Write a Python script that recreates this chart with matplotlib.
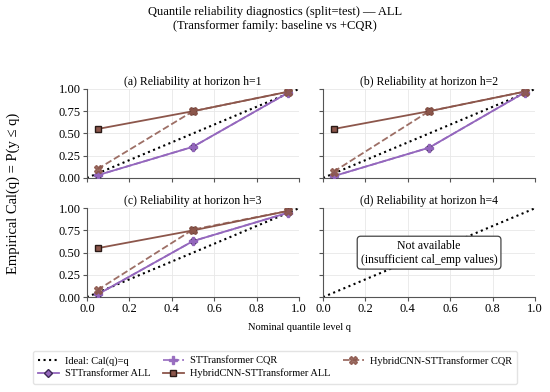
import matplotlib
matplotlib.use("Agg")
import matplotlib.pyplot as plt
import numpy as np

plt.rcParams['font.family'] = ['Liberation Serif', 'DejaVu Serif']

quantiles = [0.05, 0.5, 0.95]
horizons = [1, 2, 3, 4]
panel_letters = ['a', 'b', 'c', 'd']

st_all = {1: [0.03, 0.35, 0.96], 2: [0.02, 0.34, 0.96], 3: [0.03, 0.63, 0.95], 4: None}
st_cqr = {1: [0.03, 0.35, 0.96], 2: [0.02, 0.34, 0.96], 3: [0.03, 0.63, 0.95], 4: None}
hy_all = {1: [0.55, 0.75, 0.97], 2: [0.55, 0.75, 0.97], 3: [0.55, 0.75, 0.97], 4: None}
hy_cqr = {1: [0.10, 0.75, 0.97], 2: [0.07, 0.75, 0.97], 3: [0.08, 0.76, 0.97], 4: None}

purple = '#9467bd'
brown = '#8c564b'

fig, axes = plt.subplots(2, 2, figsize=(5.5, 3.92), dpi=100, sharex=True, sharey=True)
fig.subplots_adjust(left=0.158, right=0.973, top=0.773, bottom=0.242, wspace=0.113, hspace=0.34)

handles = None
for ax, h, let in zip(axes.flat, horizons, panel_letters):
    ideal, = ax.plot([0, 1], [0, 1], ls=':', color='black', lw=1.5, label='Ideal: Cal(q)=q', zorder=2)
    if st_all[h] is not None:
        l1, = ax.plot(quantiles, st_all[h], '-', color=purple, lw=1.3, marker='D', ms=4,
                      mfc=purple, mec='#3d2a55', label='STTransformer ALL', zorder=3)
        l2, = ax.plot(quantiles, st_cqr[h], '--', color=purple, lw=1.3, marker='P', ms=5.5,
                      mfc=purple, mec=purple, alpha=0.9, label='STTransformer CQR', zorder=4)
        l3, = ax.plot(quantiles, hy_all[h], '-', color=brown, lw=1.3, marker='s', ms=4,
                      mfc=brown, mec='#2a1a16', label='HybridCNN-STTransformer ALL', zorder=3)
        l4, = ax.plot(quantiles, hy_cqr[h], '--', color=brown, lw=1.3, marker='X', ms=5.5,
                      mfc=brown, mec=brown, alpha=0.85, label='HybridCNN-STTransformer CQR', zorder=4)
        handles = [ideal, l1, l2, l3, l4]
    else:
        ax.text(0.5, 0.5, 'Not available\n(insufficient cal_emp values)', ha='center', va='center',
                fontsize=8.5, transform=ax.transAxes,
                bbox=dict(boxstyle='round,pad=0.3', fc='white', ec='#444444', lw=0.9))
    ax.set_title(f'({let}) Reliability at horizon h={h}', fontsize=8.5, pad=3)
    ax.set_xlim(0, 1)
    ax.set_ylim(0, 1)
    ax.set_xticks(np.arange(0, 1.01, 0.2))
    ax.set_yticks([0, 0.25, 0.5, 0.75, 1.0])
    ax.grid(True, color='#e8e8e8', lw=0.6)
    ax.set_axisbelow(True)
    for s in ['top', 'right']:
        ax.spines[s].set_visible(False)
    for s in ['left', 'bottom']:
        ax.spines[s].set_color('#555555')
        ax.spines[s].set_linewidth(0.8)
    ax.tick_params(labelsize=9, length=3, color='#555555', pad=1.5)

axes[0, 0].yaxis.set_major_formatter(matplotlib.ticker.FormatStrFormatter('%.2f'))

fig.suptitle('Quantile reliability diagnostics (split=test) — ALL\n(Transformer family: baseline vs +CQR)',
             fontsize=9, y=0.985, linespacing=1.25)
fig.text(0.025, 0.507, 'Empirical Cal(q) = P(y ≤ q)', rotation=90, ha='center', va='center', fontsize=10.5)
fig.text(0.545, 0.165, 'Nominal quantile level q', ha='center', va='center', fontsize=7.5)
fig.legend(handles=handles, labels=[hh.get_label() for hh in handles], loc='lower center',
           bbox_to_anchor=(0.5, 0.008), ncol=3, fontsize=7.5, frameon=True, edgecolor='#dddddd',
           handlelength=2.0, handletextpad=0.6, columnspacing=1.2, borderpad=0.5, labelspacing=0.3)

fig.savefig('out.png', dpi=100)
